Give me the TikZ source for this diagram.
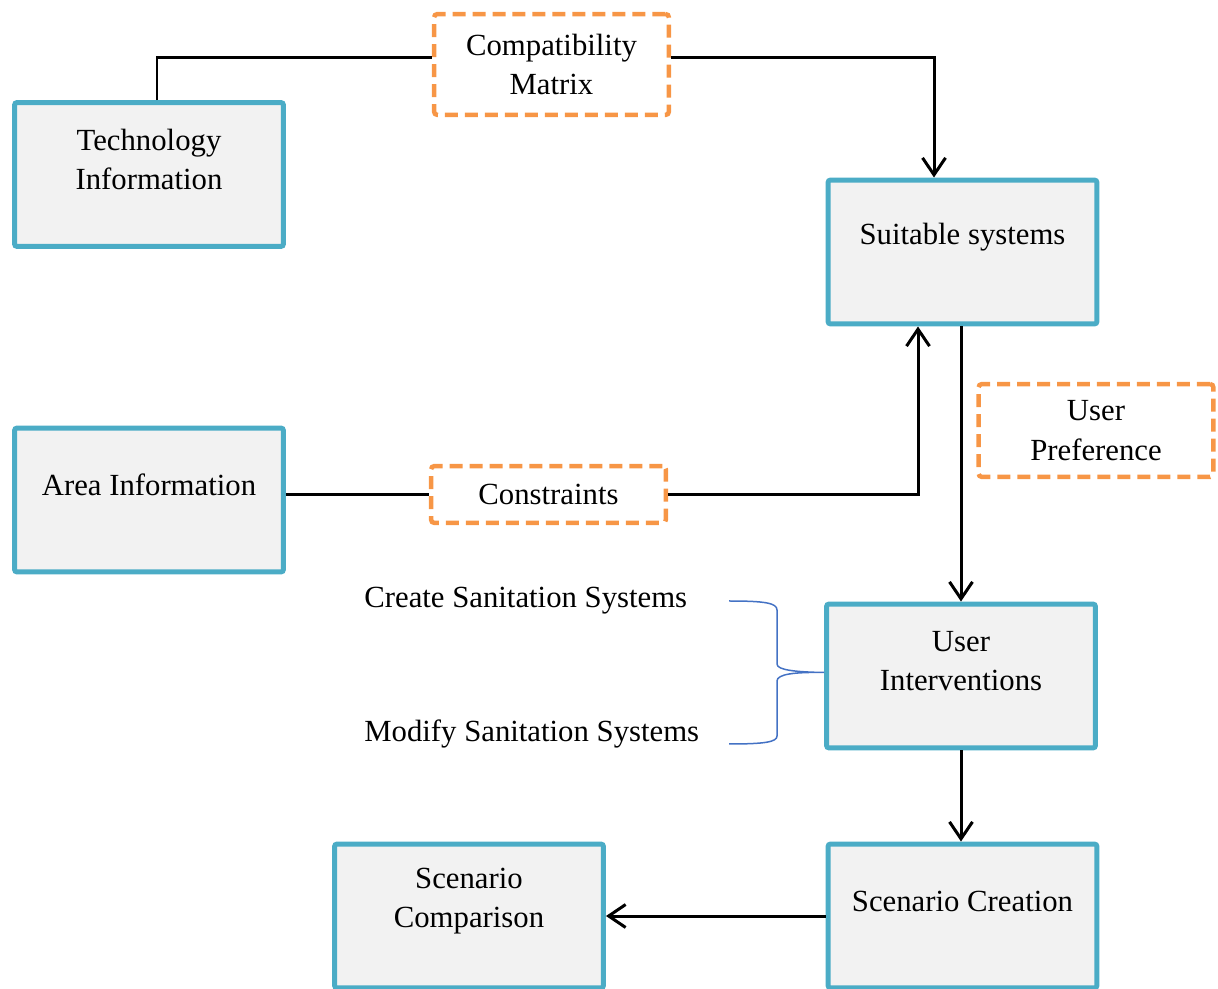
\documentclass[tikz,border=0pt]{standalone}
\usepackage{fontspec}
\setmainfont{Liberation Serif}
\usetikzlibrary{arrows.meta}

\definecolor{boxblue}{HTML}{4BACC6}
\definecolor{boxgray}{HTML}{F2F2F2}
\definecolor{dashorange}{HTML}{F79646}
\definecolor{braceblue}{HTML}{4472C4}

\tikzset{
  sysbox/.style={draw=boxblue, fill=boxgray, line width=0.1cm, rounded corners=1.5pt,
    minimum width=5.38cm, minimum height=2.88cm, inner sep=0pt},
  dashbox/.style={draw=dashorange, line width=0.09cm, rounded corners=2pt,
    dash pattern=on 0.26cm off 0.14cm, minimum width=4.7cm, inner sep=0pt, align=center},
  boxtext/.style={align=center, inner sep=0pt},
  conn/.style={line width=0.06cm},
  arr/.style={conn, -{Straight Barb[length=3.4mm, width=4.6mm, line width=0.06cm]}}
}

\begin{document}
\begin{tikzpicture}[x=0.02cm, y=-0.02cm, font=\fontsize{17.5}{22.5}\selectfont]
		\useasboundingbox (0,0) rectangle (1218,989);
		\clip (0,0) rectangle (1218,989);
		% boxes
		\node[sysbox] (tech) at (149,174.5) {};
		\node[sysbox] (suit) at (962.5,252) {};
		\node[sysbox] (area) at (149,500) {};
		\node[sysbox] (ui)   at (961,676) {};
		\node[sysbox] (sc)   at (962.5,916) {};
		\node[sysbox] (cmp)  at (469,916) {};
		% box texts
		\node[boxtext] at ([yshift=0.3cm]tech.center) {Technology\\Information};
		\node[boxtext] at ([yshift=0.3cm]suit.center) {Suitable systems};
		\node[boxtext] at ([yshift=0.3cm]area.center) {Area Information};
		\node[boxtext] at ([yshift=0.3cm]ui.center)   {User\\Interventions};
		\node[boxtext] at ([yshift=0.3cm]sc.center)   {Scenario Creation};
		\node[boxtext] at ([yshift=0.3cm]cmp.center)  {Scenario\\Comparison};
		% dashed boxes
		\node[dashbox, minimum height=2.02cm] (compat) at (551.5,64.5) {Compatibility\\Matrix};
		\node[dashbox, minimum height=1.86cm] (pref)   at (1096,430.5) {User\\Preference};
		\node[dashbox, minimum height=1.14cm] (cons)   at (548.5,494.5) {Constraints};
		% connectors
		\draw[conn] ([xshift=0.16cm]tech.north) |- ([yshift=0.13cm]compat.west);
		\draw[arr] ([yshift=0.13cm]compat.east) -| ([xshift=-0.57cm]suit.north);
		\draw[conn] (area.east |- cons.west) -- (cons.west);
		\draw[arr] (cons.east) -| ([xshift=-0.89cm]suit.south);
		\draw[arr] (suit.south -| ui.north) -- (ui.north);
		\draw[arr] (ui.south) -- (ui.south |- sc.north);
		\draw[arr] (sc.west) -- (cmp.east);
		% brace
		\coordinate (tip) at ([yshift=0.07cm]ui.west);
		\draw[braceblue, line width=0.03cm]
			(729,601) .. controls (765,601) and (777,603) .. (777,610) -- (777,664)
			.. controls (777,670) and (795,672) .. (tip)
			.. controls (795,672) and (777,674) .. (777,681) -- (777,736)
			.. controls (777,742) and (765,744) .. (729,744);
		% interventions
		\node[anchor=west, inner sep=0pt] (create) at (364,601) {Create Sanitation Systems};
		\node[anchor=west, inner sep=0pt] (modify) at (364,734) {Modify Sanitation Systems};
	\end{tikzpicture}
\end{document}
